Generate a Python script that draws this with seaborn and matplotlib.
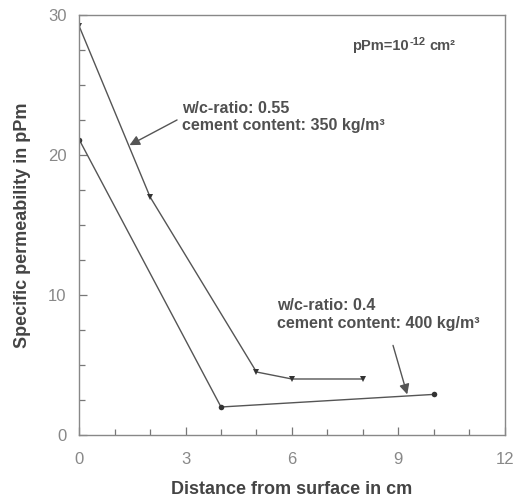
import numpy as np
import pandas as pd
import matplotlib
matplotlib.use("Agg")
import matplotlib.pyplot as plt
import seaborn as sns
from matplotlib.ticker import MultipleLocator

# data
dist_055 = [0, 2, 5, 6, 8]
perm_055 = [29.2, 17.0, 4.5, 4.0, 4.0]
dist_04 = [0, 4, 10]
perm_04 = [21.1, 2.0, 2.9]

sns.set_style("ticks")
plt.rcParams['font.family'] = ['Liberation Sans', 'DejaVu Sans']

df55 = pd.DataFrame({'dist': dist_055, 'perm': perm_055})
df04 = pd.DataFrame({'dist': dist_04, 'perm': perm_04})

fig = plt.figure(figsize=(5.14, 4.98), dpi=100)
ax = fig.add_axes([0.154, 0.1265, 0.828, 0.8435])

line_c = '#555555'
sns.lineplot(data=df55, x='dist', y='perm', ax=ax, color=line_c, lw=1.0,
             marker='v', markersize=5, markeredgewidth=0, markerfacecolor='#333333')
sns.lineplot(data=df04, x='dist', y='perm', ax=ax, color=line_c, lw=1.0,
             marker='o', markersize=4, markeredgewidth=0, markerfacecolor='#333333')

ax.set_xlim(0, 12)
ax.set_ylim(0, 30)
ax.xaxis.set_major_locator(MultipleLocator(3))
ax.xaxis.set_minor_locator(MultipleLocator(1))
ax.yaxis.set_major_locator(MultipleLocator(10))
ax.yaxis.set_minor_locator(MultipleLocator(2.5))
ax.tick_params(which='major', direction='in', length=6, width=0.9, color='#777777',
               labelsize=12, labelcolor='#888888')
ax.tick_params(axis='x', which='major', pad=12)
ax.tick_params(axis='y', which='major', pad=9)
ax.tick_params(which='minor', direction='in', length=4, width=0.9, color='#777777')
for s in ax.spines.values():
    s.set_color('#888888')
    s.set_linewidth(1.0)

ax.set_xlabel('Distance from surface in cm', fontsize=13, fontweight='bold',
              color='#444444', labelpad=10)
ax.set_ylabel('Specific permeability in pPm', fontsize=13, fontweight='bold',
              color='#444444', labelpad=12)

txt_c = '#505050'
# unit note, built from pieces so the exponent keeps a plain hyphen
t1 = ax.text(7.7, 27.8, 'pPm=10', fontsize=10.5, fontweight='bold', color=txt_c,
             va='center', ha='left')
t2 = ax.annotate('-12', xy=(1, 1), xycoords=t1, xytext=(0.5, 1), textcoords='offset points',
                 fontsize=8, fontweight='bold', color=txt_c, ha='left', va='top')
ax.annotate('cm²', xy=(1, 0), xycoords=(t2, t1), xytext=(3, 0), textcoords='offset points',
            fontsize=10.5, fontweight='bold', color=txt_c, ha='left', va='bottom')

ax.annotate('w/c-ratio: 0.55\ncement content: 350 kg/m³', xy=(1.42, 20.7), xytext=(2.9, 22.7),
            fontsize=11.5, fontweight='bold', color=txt_c, ha='left', va='center',
            linespacing=1.2)
ax.annotate('', xy=(1.42, 20.7), xytext=(2.76, 22.5),
            arrowprops=dict(arrowstyle='-|>', color='#555555', lw=1.0,
                            mutation_scale=15, shrinkA=0, shrinkB=0))
ax.annotate('w/c-ratio: 0.4\ncement content: 400 kg/m³', xy=(9.25, 2.9), xytext=(5.58, 8.6),
            fontsize=11.5, fontweight='bold', color=txt_c, ha='left', va='center',
            linespacing=1.2)
ax.annotate('', xy=(9.25, 2.9), xytext=(8.85, 6.4),
            arrowprops=dict(arrowstyle='-|>', color='#555555', lw=1.0,
                            mutation_scale=15, shrinkA=0, shrinkB=0))

plt.savefig('out.png', dpi=100)
